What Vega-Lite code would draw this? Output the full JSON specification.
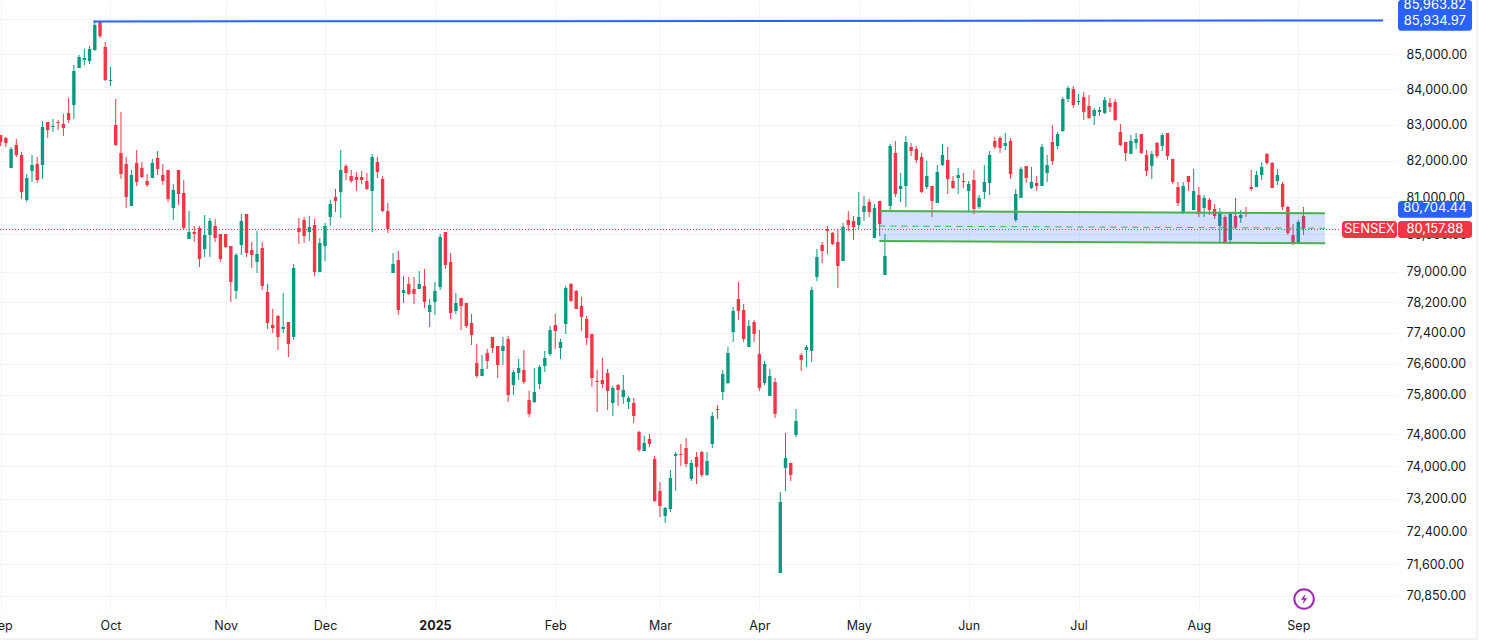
{
  "$schema": "https://vega.github.io/schema/vega-lite/v6.json",
  "width": 1397,
  "height": 610,
  "autosize": {"type": "none"},
  "padding": {"left": 0, "top": 0, "right": 90, "bottom": 30},
  "background": "#ffffff",
  "config": {"view": {"stroke": null}, "font": "Inter"},
  "datasets": {
    "candles": [
      {"i":0,"o":82718,"h":82718,"l":82413,"c":82524},{"i":1,"o":82635,"h":82662,"l":82385,"c":82496},{"i":2,"o":81806,"h":82385,"l":81806,"c":82330},{"i":3,"o":82440,"h":82607,"l":82109,"c":82164},{"i":4,"o":82164,"h":82247,"l":80958,"c":81149},
      {"i":5,"o":80931,"h":81641,"l":80877,"c":81531},{"i":6,"o":81724,"h":82164,"l":81421,"c":81888},{"i":7,"o":81916,"h":82109,"l":81394,"c":81476},{"i":8,"o":81888,"h":83108,"l":81504,"c":82941},{"i":9,"o":83080,"h":83080,"l":82635,"c":82857},
      {"i":10,"o":82941,"h":83164,"l":82801,"c":82969},{"i":11,"o":83080,"h":83136,"l":82857,"c":83052},{"i":12,"o":83024,"h":83304,"l":82690,"c":82913},{"i":13,"o":83332,"h":83752,"l":83052,"c":83136},{"i":14,"o":83556,"h":84686,"l":83164,"c":84516},
      {"i":15,"o":84601,"h":84971,"l":84601,"c":84915},{"i":16,"o":84829,"h":85143,"l":84686,"c":84886},{"i":17,"o":84800,"h":85229,"l":84715,"c":85143},{"i":18,"o":85114,"h":85958,"l":85086,"c":85833},{"i":19,"o":85919,"h":85948,"l":85458,"c":85516},
      {"i":20,"o":85200,"h":85344,"l":84233,"c":84261},{"i":21,"o":84233,"h":84629,"l":84091,"c":84261},{"i":22,"o":82997,"h":83724,"l":82413,"c":82440},{"i":23,"o":82219,"h":83360,"l":81504,"c":81641},{"i":24,"o":81916,"h":82109,"l":80713,"c":81013},
      {"i":25,"o":80768,"h":81751,"l":80768,"c":81613},{"i":26,"o":81943,"h":82302,"l":81312,"c":81421},{"i":27,"o":81806,"h":81971,"l":81531,"c":81558},{"i":28,"o":81449,"h":81641,"l":81285,"c":81340},{"i":29,"o":81531,"h":82054,"l":81531,"c":81943},
      {"i":30,"o":82081,"h":82274,"l":81613,"c":81779},{"i":31,"o":81613,"h":81916,"l":81340,"c":81449},{"i":32,"o":81751,"h":81751,"l":80877,"c":80958},{"i":33,"o":80713,"h":81367,"l":80389,"c":81203},{"i":34,"o":81751,"h":81751,"l":80795,"c":81094},
      {"i":35,"o":81122,"h":81476,"l":80119,"c":80173},{"i":36,"o":79877,"h":80632,"l":79877,"c":80065},{"i":37,"o":80065,"h":80227,"l":79796,"c":80011},{"i":38,"o":80173,"h":80227,"l":79129,"c":79342},{"i":39,"o":79609,"h":80524,"l":79395,"c":79984},
      {"i":40,"o":79984,"h":80443,"l":79395,"c":80362},{"i":41,"o":80227,"h":80416,"l":79796,"c":79904},{"i":42,"o":80011,"h":80011,"l":79262,"c":79342},{"i":43,"o":80011,"h":80011,"l":79636,"c":79662},{"i":44,"o":79689,"h":79689,"l":78204,"c":78731},
      {"i":45,"o":78494,"h":79502,"l":78282,"c":79448},{"i":46,"o":79716,"h":80551,"l":79448,"c":80362},{"i":47,"o":80551,"h":80551,"l":79395,"c":79502},{"i":48,"o":79582,"h":79796,"l":79102,"c":79448},{"i":49,"o":79262,"h":80092,"l":78969,"c":79475},
      {"i":50,"o":79636,"h":79796,"l":78520,"c":78626},{"i":51,"o":78467,"h":78678,"l":77497,"c":77654},{"i":52,"o":77601,"h":78020,"l":77393,"c":77523},{"i":53,"o":77837,"h":77863,"l":76952,"c":77289},{"i":54,"o":77497,"h":78441,"l":77393,"c":77549},
      {"i":55,"o":77680,"h":77680,"l":76771,"c":77107},{"i":56,"o":77289,"h":79209,"l":77211,"c":79102},{"i":57,"o":80173,"h":80443,"l":79743,"c":80065},{"i":58,"o":80389,"h":80470,"l":79770,"c":79958},{"i":59,"o":80065,"h":80497,"l":79823,"c":80200},
      {"i":60,"o":80254,"h":80416,"l":78890,"c":78996},{"i":61,"o":78996,"h":79904,"l":78996,"c":79770},{"i":62,"o":79689,"h":80308,"l":79288,"c":80227},{"i":63,"o":80470,"h":80931,"l":80227,"c":80822},{"i":64,"o":81013,"h":81230,"l":80605,"c":80904},
      {"i":65,"o":81149,"h":82302,"l":80443,"c":81751},{"i":66,"o":81861,"h":81916,"l":81476,"c":81668},{"i":67,"o":81586,"h":81751,"l":81394,"c":81449},{"i":68,"o":81558,"h":81696,"l":81176,"c":81476},{"i":69,"o":81558,"h":81724,"l":81367,"c":81476},
      {"i":70,"o":81449,"h":81668,"l":81203,"c":81230},{"i":71,"o":81176,"h":82192,"l":80065,"c":82109},{"i":72,"o":81971,"h":82109,"l":81531,"c":81696},{"i":73,"o":81504,"h":81586,"l":80605,"c":80632},{"i":74,"o":80632,"h":80850,"l":80038,"c":80146},
      {"i":75,"o":78969,"h":79502,"l":78969,"c":79209},{"i":76,"o":79315,"h":79555,"l":77863,"c":77994},{"i":77,"o":78441,"h":78890,"l":78177,"c":78520},{"i":78,"o":78678,"h":78864,"l":78388,"c":78415},{"i":79,"o":78546,"h":78864,"l":78151,"c":78415},
      {"i":80,"o":78546,"h":79022,"l":78546,"c":78678},{"i":81,"o":78626,"h":79075,"l":78047,"c":78204},{"i":82,"o":77942,"h":78282,"l":77549,"c":78125},{"i":83,"o":78204,"h":78731,"l":77863,"c":78494},{"i":84,"o":78599,"h":80011,"l":78520,"c":79931},
      {"i":85,"o":80065,"h":80065,"l":79075,"c":79182},{"i":86,"o":79262,"h":79502,"l":77758,"c":77916},{"i":87,"o":77968,"h":78441,"l":77889,"c":78177},{"i":88,"o":78308,"h":78308,"l":77471,"c":78099},{"i":89,"o":78177,"h":78177,"l":77523,"c":77575},
      {"i":90,"o":77654,"h":77889,"l":77081,"c":77341},{"i":91,"o":76617,"h":77107,"l":76231,"c":76283},{"i":92,"o":76283,"h":76823,"l":76283,"c":76463},{"i":93,"o":76875,"h":76978,"l":76463,"c":76668},{"i":94,"o":77289,"h":77289,"l":76875,"c":77004},
      {"i":95,"o":77055,"h":77055,"l":76231,"c":76566},{"i":96,"o":76926,"h":77289,"l":76566,"c":77055},{"i":97,"o":77237,"h":77315,"l":75619,"c":75797},{"i":98,"o":76052,"h":76437,"l":75797,"c":76386},{"i":99,"o":76360,"h":76720,"l":76180,"c":76488},
      {"i":100,"o":76437,"h":76952,"l":76078,"c":76129},{"i":101,"o":75670,"h":75900,"l":75239,"c":75315},{"i":102,"o":75619,"h":76488,"l":75594,"c":75874},{"i":103,"o":76078,"h":76566,"l":75950,"c":76514},{"i":104,"o":76540,"h":76926,"l":76386,"c":76746},
      {"i":105,"o":76849,"h":77575,"l":76797,"c":77471},{"i":106,"o":77601,"h":77889,"l":76978,"c":77445},{"i":107,"o":77004,"h":77237,"l":76720,"c":77159},{"i":108,"o":77627,"h":78626,"l":77367,"c":78573},{"i":109,"o":78678,"h":78705,"l":78204,"c":78230},
      {"i":110,"o":78494,"h":78520,"l":78020,"c":78020},{"i":111,"o":78099,"h":78335,"l":77445,"c":77811},{"i":112,"o":77758,"h":77837,"l":77081,"c":77263},{"i":113,"o":77367,"h":77367,"l":76001,"c":76231},{"i":114,"o":76154,"h":76437,"l":75365,"c":76129},
      {"i":115,"o":76180,"h":76746,"l":75976,"c":76078},{"i":116,"o":76360,"h":76463,"l":75416,"c":75900},{"i":117,"o":75594,"h":76027,"l":75264,"c":75976},{"i":118,"o":76052,"h":76078,"l":75517,"c":75925},{"i":119,"o":75746,"h":76308,"l":75568,"c":75925},
      {"i":120,"o":75619,"h":75772,"l":75441,"c":75721},{"i":121,"o":75594,"h":75721,"l":75088,"c":75264},{"i":122,"o":74861,"h":74886,"l":74359,"c":74409},{"i":123,"o":74384,"h":74760,"l":74384,"c":74585},{"i":124,"o":74685,"h":74811,"l":74484,"c":74560},
      {"i":125,"o":74185,"h":74260,"l":73120,"c":73145},{"i":126,"o":73391,"h":73614,"l":72752,"c":73022},{"i":127,"o":72777,"h":72997,"l":72606,"c":72973},{"i":128,"o":72948,"h":73911,"l":72875,"c":73713},{"i":129,"o":74260,"h":74359,"l":73391,"c":74310},
      {"i":130,"o":74310,"h":74560,"l":74010,"c":74285},{"i":131,"o":74459,"h":74710,"l":73985,"c":74060},{"i":132,"o":73688,"h":74160,"l":73638,"c":74085},{"i":133,"o":74235,"h":74359,"l":73564,"c":73985},{"i":134,"o":74359,"h":74384,"l":73738,"c":73787},
      {"i":135,"o":73787,"h":74359,"l":73762,"c":74135},{"i":136,"o":74560,"h":75365,"l":74459,"c":75264},{"i":137,"o":75441,"h":75543,"l":75188,"c":75416},{"i":138,"o":75874,"h":76437,"l":75670,"c":76334},{"i":139,"o":76103,"h":77029,"l":76078,"c":76875},
      {"i":140,"o":77419,"h":78073,"l":77159,"c":77968},{"i":141,"o":78282,"h":78731,"l":77732,"c":77968},{"i":142,"o":77994,"h":78151,"l":77159,"c":77237},{"i":143,"o":77029,"h":77732,"l":77029,"c":77575},{"i":144,"o":77680,"h":77732,"l":77159,"c":77367},
      {"i":145,"o":76849,"h":77471,"l":75900,"c":75976},{"i":146,"o":76103,"h":76668,"l":76052,"c":76591},{"i":147,"o":75772,"h":76463,"l":75772,"c":76283},{"i":148,"o":76129,"h":76231,"l":75214,"c":75315},{"i":149,"o":71396,"h":73366,"l":71396,"c":73120},
      {"i":150,"o":73960,"h":74836,"l":73391,"c":74210},{"i":151,"o":74085,"h":74085,"l":73638,"c":73787},{"i":152,"o":74785,"h":75441,"l":74735,"c":75138},{"i":153,"o":76823,"h":76875,"l":76411,"c":76694},{"i":154,"o":76952,"h":77081,"l":76514,"c":77029},
      {"i":155,"o":76926,"h":78599,"l":76643,"c":78520},{"i":156,"o":78864,"h":79609,"l":78758,"c":79395},{"i":157,"o":79716,"h":79796,"l":79235,"c":79555},{"i":158,"o":80146,"h":80227,"l":79475,"c":80092},{"i":159,"o":80038,"h":80065,"l":79716,"c":79743},
      {"i":160,"o":79796,"h":80146,"l":78573,"c":79155},{"i":161,"o":79288,"h":80308,"l":79288,"c":80200},{"i":162,"o":80389,"h":80632,"l":80092,"c":80254},{"i":163,"o":80362,"h":80497,"l":79850,"c":80200},{"i":164,"o":80254,"h":81149,"l":80146,"c":80470},
      {"i":165,"o":80605,"h":81040,"l":80362,"c":80768},{"i":166,"o":80877,"h":80958,"l":80470,"c":80605},{"i":167,"o":79904,"h":80822,"l":79904,"c":80713},{"i":168,"o":80904,"h":80904,"l":79958,"c":80281},{"i":169,"o":78916,"h":80011,"l":78916,"c":79422},
      {"i":170,"o":80768,"h":82468,"l":80632,"c":82413},{"i":171,"o":82219,"h":82551,"l":81013,"c":81094},{"i":172,"o":81230,"h":81668,"l":80877,"c":81312},{"i":173,"o":81312,"h":82690,"l":80740,"c":82524},{"i":174,"o":82385,"h":82496,"l":82136,"c":82274},
      {"i":175,"o":82330,"h":82413,"l":81943,"c":82026},{"i":176,"o":82109,"h":82219,"l":81122,"c":81149},{"i":177,"o":81285,"h":81998,"l":81230,"c":81586},{"i":178,"o":81312,"h":81312,"l":80470,"c":80904},{"i":179,"o":80850,"h":81888,"l":80850,"c":81696},
      {"i":180,"o":81888,"h":82468,"l":81861,"c":82164},{"i":181,"o":82026,"h":82385,"l":81094,"c":81504},{"i":182,"o":81449,"h":81586,"l":81230,"c":81258},{"i":183,"o":81531,"h":81806,"l":81094,"c":81613},{"i":184,"o":81449,"h":81668,"l":81258,"c":81421},
      {"i":185,"o":81176,"h":81449,"l":80632,"c":81367},{"i":186,"o":81476,"h":81751,"l":80551,"c":80686},{"i":187,"o":80740,"h":81067,"l":80686,"c":80986},{"i":188,"o":81149,"h":81888,"l":80958,"c":81421},{"i":189,"o":81394,"h":82274,"l":81067,"c":82164},
      {"i":190,"o":82551,"h":82662,"l":82330,"c":82385},{"i":191,"o":82635,"h":82690,"l":82219,"c":82358},{"i":192,"o":82413,"h":82773,"l":82302,"c":82496},{"i":193,"o":82551,"h":82635,"l":81504,"c":81641},{"i":194,"o":80389,"h":81230,"l":80335,"c":81094},
      {"i":195,"o":80986,"h":81834,"l":80986,"c":81779},{"i":196,"o":81861,"h":81861,"l":81394,"c":81531},{"i":197,"o":81258,"h":81834,"l":81230,"c":81421},{"i":198,"o":81394,"h":81586,"l":81176,"c":81312},{"i":199,"o":81312,"h":82468,"l":81312,"c":82385},
      {"i":200,"o":81668,"h":82164,"l":81421,"c":81888},{"i":201,"o":82524,"h":82997,"l":81888,"c":81998},{"i":202,"o":82413,"h":82801,"l":82330,"c":82746},{"i":203,"o":82829,"h":83780,"l":82801,"c":83724},{"i":204,"o":83724,"h":84091,"l":83640,"c":84034},
      {"i":205,"o":84006,"h":84091,"l":83472,"c":83556},{"i":206,"o":83640,"h":83865,"l":83556,"c":83668},{"i":207,"o":83780,"h":83922,"l":83136,"c":83360},{"i":208,"o":83528,"h":83837,"l":83164,"c":83192},{"i":209,"o":83248,"h":83472,"l":82997,"c":83416},
      {"i":210,"o":83360,"h":83500,"l":83248,"c":83416},{"i":211,"o":83332,"h":83780,"l":83304,"c":83696},{"i":212,"o":83612,"h":83752,"l":83360,"c":83500},{"i":213,"o":83640,"h":83724,"l":83108,"c":83136},{"i":214,"o":82801,"h":83024,"l":82413,"c":82440},
      {"i":215,"o":82524,"h":82524,"l":81998,"c":82219},{"i":216,"o":82192,"h":82718,"l":82192,"c":82551},{"i":217,"o":82496,"h":82773,"l":82330,"c":82607},{"i":218,"o":82746,"h":82746,"l":82192,"c":82219},{"i":219,"o":82164,"h":82302,"l":81586,"c":81724},
      {"i":220,"o":81861,"h":82274,"l":81504,"c":82192},{"i":221,"o":82496,"h":82524,"l":82081,"c":82136},{"i":222,"o":82413,"h":82773,"l":82274,"c":82718},{"i":223,"o":82773,"h":82773,"l":82026,"c":82136},{"i":224,"o":82054,"h":82054,"l":81367,"c":81421},
      {"i":225,"o":81285,"h":81421,"l":80768,"c":80850},{"i":226,"o":80578,"h":81421,"l":80551,"c":81312},{"i":227,"o":81586,"h":81586,"l":81176,"c":81421},{"i":228,"o":80659,"h":81779,"l":80659,"c":81176},{"i":229,"o":81067,"h":81285,"l":80470,"c":80551},
      {"i":230,"o":80713,"h":81067,"l":80470,"c":80986},{"i":231,"o":80931,"h":80986,"l":80524,"c":80659},{"i":232,"o":80686,"h":80822,"l":80416,"c":80497},{"i":233,"o":80227,"h":80713,"l":79796,"c":80605},{"i":234,"o":80470,"h":80524,"l":79743,"c":79796},
      {"i":235,"o":79850,"h":80605,"l":79743,"c":80578},{"i":236,"o":80497,"h":80986,"l":80146,"c":80200},{"i":237,"o":80443,"h":80659,"l":80308,"c":80524},{"i":238,"o":80605,"h":80740,"l":80470,"c":80551},{"i":239,"o":81285,"h":81751,"l":81176,"c":81230},
      {"i":240,"o":81285,"h":81724,"l":81285,"c":81613},{"i":241,"o":81613,"h":81971,"l":81476,"c":81834},{"i":242,"o":82192,"h":82219,"l":81888,"c":81943},{"i":243,"o":81943,"h":81971,"l":81258,"c":81258},{"i":244,"o":81449,"h":81779,"l":81340,"c":81613},
      {"i":245,"o":81367,"h":81421,"l":80659,"c":80740},{"i":246,"o":80740,"h":80768,"l":79984,"c":80038},{"i":247,"o":79984,"h":80281,"l":79716,"c":79770},{"i":248,"o":79770,"h":80389,"l":79770,"c":80335},{"i":249,"o":80497,"h":80740,"l":79984,"c":80158}
    ],
    "channel": [
      {"i":167.93,"top":80632,"mid":80227,"bot":79823},
      {"i":253.1,"top":80570,"mid":80165,"bot":79762}
    ],
    "peak": [
      {"i":17.7,"p":85935},
      {"i":264.2,"p":85964}
    ],
    "last": [
      {"i":-0.117,"p":80132},
      {"i":256.2,"p":80132}
    ],
    "frame": [
      {"a":281.96,"b":282.34,"top":86557,"bot":69853},
      {"a":-0.117,"b":282.34,"top":69853,"bot":69806}
    ],
    "tags": [
      {"a":267.05,"b":281.2,"top":86557,"bot":85669,"kind":"alert"},
      {"a":267.05,"b":281.2,"top":80904,"bot":80451,"kind":"alert"},
      {"a":267.05,"b":281.2,"top":80362,"bot":79905,"kind":"price"},
      {"a":256.35,"b":266.86,"top":80362,"bot":79905,"kind":"price"}
    ],
    "tagtext": [
      {"i":274.1,"p":86426,"label":"85,963.82"},
      {"i":274.1,"p":85935,"label":"85,934.97"},
      {"i":274.1,"p":80704,"label":"80,704.44"},
      {"i":274.1,"p":80140,"label":"80,157.88"},
      {"i":261.6,"p":80140,"label":"SENSEX"}
    ],
    "icon": [
      {"i":249.1,"p":70774}
    ]
  },
  "layer": [
    {
      "data": {"name": "candles"},
      "mark": {"type": "rule", "strokeWidth": 1},
      "encoding": {
        "x": {
          "field": "i",
          "type": "quantitative",
          "title": null,
          "scale": {"domain": [-0.117, 266.86], "nice": false, "zero": false, "padding": 0},
          "axis": {
            "values": [0, 21, 43, 62, 83, 106, 126, 145, 164, 185, 206, 229, 248],
            "labelExpr": "{'0':'Sep','21':'Oct','43':'Nov','62':'Dec','83':'2025','106':'Feb','126':'Mar','145':'Apr','164':'May','185':'Jun','206':'Jul','229':'Aug','248':'Sep'}[datum.value]",
            "labelFontWeight": {"expr": "datum.value == 83 ? 700 : 400"},
            "labelFont": "Inter",
            "labelFontSize": 12.5,
            "labelColor": "#131722",
            "labelPadding": 9,
            "labelBound": false,
            "labelFlush": false,
            "labelOverlap": false,
            "domain": false,
            "ticks": false,
            "grid": true,
            "gridColor": "#f2f3f5",
            "gridWidth": 1
          }
        },
        "y": {
          "field": "h",
          "type": "quantitative",
          "title": null,
          "scale": {"type": "log", "domain": [70513, 86557], "nice": false},
          "axis": {
            "orient": "right",
            "values": [86000, 85000, 84000, 83000, 82000, 81000, 80000, 79000, 78200, 77400, 76600, 75800, 74800, 74000, 73200, 72400, 71600, 70850],
            "format": ",.2f",
            "labelFont": "Inter",
            "labelFontSize": 12.5,
            "labelColor": "#131722",
            "labelPadding": 9,
            "labelBound": false,
            "labelFlush": false,
            "labelOverlap": false,
            "domain": false,
            "ticks": false,
            "grid": true,
            "gridColor": "#f2f3f5",
            "gridWidth": 1
          }
        },
        "y2": {"field": "l"},
        "color": {"condition": {"test": "datum.c >= datum.o", "value": "#089981"}, "value": "#f23645"}
      }
    },
    {
      "data": {"name": "candles"},
      "mark": {"type": "bar", "width": 3.4},
      "encoding": {
        "x": {"field": "i", "type": "quantitative"},
        "y": {"field": "o", "type": "quantitative", "scale": {"type": "log", "domain": [70513, 86557], "nice": false}, "stack": null},
        "y2": {"field": "c"},
        "color": {"condition": {"test": "datum.c >= datum.o", "value": "#089981"}, "value": "#f23645"}
      }
    },
    {
      "data": {"name": "channel"},
      "mark": {"type": "area", "color": "#2962ff", "opacity": 0.2},
      "encoding": {
        "x": {"field": "i", "type": "quantitative"},
        "y": {"field": "top", "type": "quantitative", "scale": {"type": "log", "domain": [70513, 86557], "nice": false}, "stack": null},
        "y2": {"field": "bot"}
      }
    },
    {
      "data": {"name": "channel"},
      "mark": {"type": "line", "color": "#4caf50", "strokeWidth": 2},
      "encoding": {
        "x": {"field": "i", "type": "quantitative"},
        "y": {"field": "top", "type": "quantitative", "scale": {"type": "log", "domain": [70513, 86557], "nice": false}}
      }
    },
    {
      "data": {"name": "channel"},
      "mark": {"type": "line", "color": "#4caf50", "strokeWidth": 2},
      "encoding": {
        "x": {"field": "i", "type": "quantitative"},
        "y": {"field": "bot", "type": "quantitative", "scale": {"type": "log", "domain": [70513, 86557], "nice": false}}
      }
    },
    {
      "data": {"name": "channel"},
      "mark": {"type": "line", "color": "#4caf50", "strokeWidth": 1, "strokeDash": [6, 5]},
      "encoding": {
        "x": {"field": "i", "type": "quantitative"},
        "y": {"field": "mid", "type": "quantitative", "scale": {"type": "log", "domain": [70513, 86557], "nice": false}}
      }
    },
    {
      "data": {"name": "peak"},
      "mark": {"type": "line", "color": "#2962ff", "strokeWidth": 2},
      "encoding": {
        "x": {"field": "i", "type": "quantitative"},
        "y": {"field": "p", "type": "quantitative", "scale": {"type": "log", "domain": [70513, 86557], "nice": false}}
      }
    },
    {
      "data": {"name": "last"},
      "mark": {"type": "line", "color": "#f23645", "strokeWidth": 1, "strokeDash": [1, 2]},
      "encoding": {
        "x": {"field": "i", "type": "quantitative"},
        "y": {"field": "p", "type": "quantitative", "scale": {"type": "log", "domain": [70513, 86557], "nice": false}}
      }
    },
    {
      "data": {"name": "frame"},
      "mark": {"type": "bar", "color": "#f1f2f4"},
      "encoding": {
        "x": {"field": "a", "type": "quantitative"},
        "x2": {"field": "b"},
        "y": {"field": "top", "type": "quantitative", "scale": {"type": "log", "domain": [70513, 86557], "nice": false}, "stack": null},
        "y2": {"field": "bot"}
      }
    },
    {
      "data": {"name": "tags"},
      "mark": {"type": "bar", "cornerRadius": 3},
      "encoding": {
        "x": {"field": "a", "type": "quantitative"},
        "x2": {"field": "b"},
        "y": {"field": "top", "type": "quantitative", "scale": {"type": "log", "domain": [70513, 86557], "nice": false}, "stack": null},
        "y2": {"field": "bot"},
        "color": {"condition": {"test": "datum.kind == 'alert'", "value": "#2962ff"}, "value": "#f23645"}
      }
    },
    {
      "data": {"name": "tagtext"},
      "mark": {"type": "text", "color": "#ffffff", "font": "Inter", "fontSize": 13, "align": "center", "baseline": "middle"},
      "encoding": {
        "x": {"field": "i", "type": "quantitative"},
        "y": {"field": "p", "type": "quantitative", "scale": {"type": "log", "domain": [70513, 86557], "nice": false}},
        "text": {"field": "label", "type": "nominal"}
      }
    },
    {
      "data": {"name": "icon"},
      "mark": {"type": "point", "shape": "circle", "filled": false, "color": "#9c27b0", "size": 380, "strokeWidth": 2, "opacity": 1},
      "encoding": {
        "x": {"field": "i", "type": "quantitative"},
        "y": {"field": "p", "type": "quantitative", "scale": {"type": "log", "domain": [70513, 86557], "nice": false}}
      }
    },
    {
      "data": {"name": "icon"},
      "mark": {"type": "point", "shape": "M0.25,-1 L-0.6,0.15 L-0.05,0.15 L-0.25,1 L0.6,-0.15 L0.05,-0.15 Z", "filled": true, "color": "#9c27b0", "size": 110, "opacity": 1, "strokeWidth": 0},
      "encoding": {
        "x": {"field": "i", "type": "quantitative"},
        "y": {"field": "p", "type": "quantitative", "scale": {"type": "log", "domain": [70513, 86557], "nice": false}}
      }
    }
  ]
}
